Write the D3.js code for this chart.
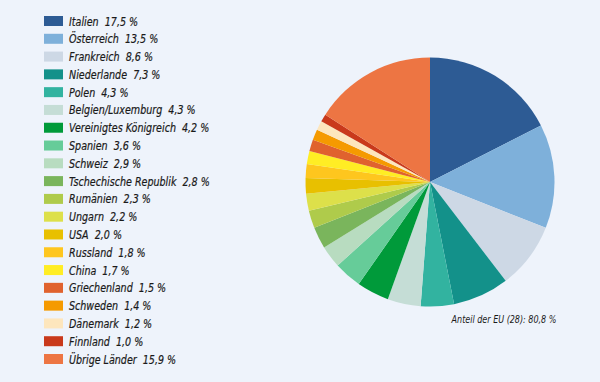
<!DOCTYPE html>
<html>
<head>
<meta charset="utf-8">
<script src="https://cdn.jsdelivr.net/npm/d3@7"></script>
<style>
  body { margin: 0; background: #eef3fb; }
  svg text { font-family: "DejaVu Sans Condensed", "DejaVu Sans", sans-serif; font-style: italic; fill: #1a1a1a; }
</style>
</head>
<body>
<div id="chart"></div>
<script>
// data
const countries = ["Italien", "Österreich", "Frankreich", "Niederlande", "Polen", "Belgien/Luxemburg",
    "Vereinigtes Königreich", "Spanien", "Schweiz", "Tschechische Republik", "Rumänien", "Ungarn",
    "USA", "Russland", "China", "Griechenland", "Schweden", "Dänemark", "Finnland", "Übrige Länder"];
const shares = [17.5, 13.5, 8.6, 7.3, 4.3, 4.3, 4.2, 3.6, 2.9, 2.8, 2.3, 2.2, 2.0, 1.8, 1.7, 1.5, 1.4, 1.2, 1.0, 15.9];
const colors = ["#2d5b94", "#7eb0da", "#cdd8e5", "#13918a", "#32b3a0", "#c5ddd6", "#009a3a", "#66cc99",
    "#b8dcc0", "#7ab55c", "#afcb4b", "#dde04a", "#e8c000", "#fec61e", "#ffed24", "#e0622e",
    "#f59a00", "#fde6bd", "#c9391b", "#ed7543"];
const note = "Anteil der EU (28): 80,8 %";

const width = 600, height = 382;
const fmt = v => d3.format(".1f")(v).replace(".", ",") + " %";

const svg = d3.select("#chart").append("svg")
    .attr("width", width)
    .attr("height", height);

svg.append("rect")
    .attr("width", width).attr("height", height)
    .attr("fill", "#eef3fb");

// legend
const y = d3.scalePoint().domain(countries).range([21, 359]);

const leg = svg.append("g").selectAll("g")
    .data(countries)
    .join("g")
    .attr("transform", d => "translate(44," + y(d) + ")");

leg.append("rect")
    .attr("y", -5)
    .attr("width", 19)
    .attr("height", 10)
    .attr("fill", (d, i) => colors[i]);

leg.append("text")
    .attr("transform", "translate(25,4.5) scale(0.85,1)")
    .attr("font-size", 12.5)
    .attr("stroke", "#1a1a1a")
    .attr("stroke-width", 0.2)
    .attr("xml:space", "preserve")
    .text((d, i) => d + "  " + fmt(shares[i]));

// pie
const r = 124.5;
const pie = d3.pie().sort(null).value(d => d);
const arc = d3.arc().innerRadius(0).outerRadius(r);

svg.append("g")
    .attr("transform", "translate(430,182)")
    .selectAll("path")
    .data(pie(shares))
    .join("path")
    .attr("d", arc)
    .attr("fill", (d, i) => colors[i]);

svg.append("text")
    .attr("transform", "translate(504,323) scale(0.85,1)")
    .attr("text-anchor", "middle")
    .attr("font-size", 10.5)
    .text(note);
</script>
</body>
</html>
